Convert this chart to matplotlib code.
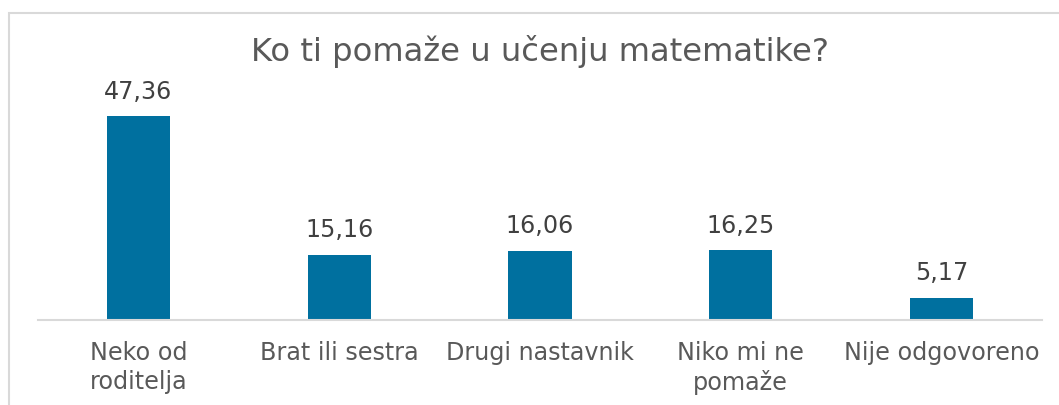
import matplotlib.pyplot as plt
from matplotlib.patches import Rectangle

# data
categories = ['Neko od\nroditelja', 'Brat ili sestra', 'Drugi nastavnik',
              'Niko mi ne\npomaže', 'Nije odgovoreno']
values = [47.36, 15.16, 16.06, 16.25, 5.17]
title = 'Ko ti pomaže u učenju matematike?'

W, H = 1059, 405
fig = plt.figure(figsize=(W / 100, H / 100), dpi=100)
fig.patch.set_facecolor('white')

# chart frame (runs off the right and bottom edges)
fig.patches.append(Rectangle((9 / W, -0.1), 1.2, (H - 13) / H + 0.1,
                             transform=fig.transFigure, fill=False,
                             edgecolor='#D9D9D9', linewidth=1.5))

ax_top = 100
ax = fig.add_axes([38 / W, (H - 320) / H, (1042 - 38) / W, (320 - ax_top) / H])
x = range(len(values))
ax.bar(x, values, width=0.315, color='#00709F')
ax.set_xlim(-0.5, len(values) - 0.5)
ax.set_ylim(0, 47.36 * (320 - ax_top) / 204)

for xi, v in zip(x, values):
    ax.annotate(f'{v:.2f}'.replace('.', ','), (xi, v), xytext=(0, 9),
                textcoords='offset points', ha='center', va='bottom',
                fontsize=17.2, color='#404040')

ax.set_xticks(list(x))
ax.set_xticklabels(categories, fontsize=17.2, color='#595959', linespacing=1.25)
ax.tick_params(axis='x', length=0, pad=15)
ax.set_yticks([])
for s in ['top', 'right', 'left']:
    ax.spines[s].set_visible(False)
ax.spines['bottom'].set_color('#D9D9D9')
ax.spines['bottom'].set_linewidth(1.5)

fig.text(540 / W, (H - 51) / H, title, ha='center', va='center',
         fontsize=23.2, color='#595959')

fig.savefig('out.png', dpi=100)
